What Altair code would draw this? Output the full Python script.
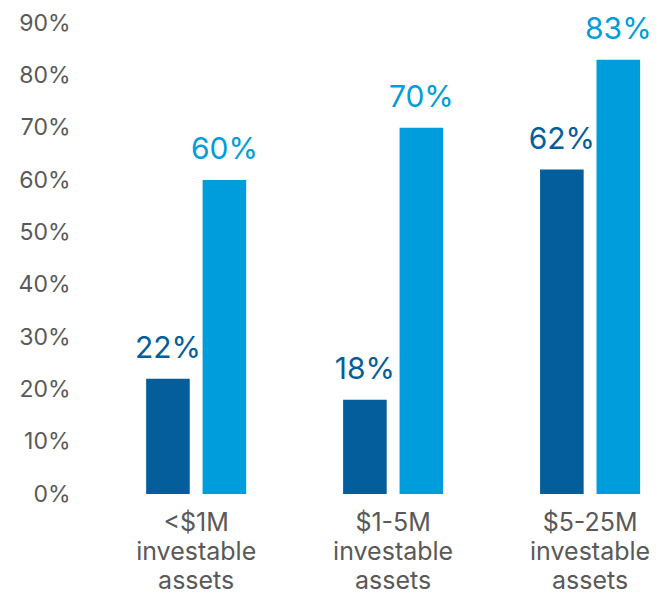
import altair as alt
import pandas as pd

categories = ["<$1M|investable|assets", "$1-5M|investable|assets", "$5-25M|investable|assets"]
series = ["Series 1", "Series 2"]
values_s1 = [22, 18, 62]
values_s2 = [60, 70, 83]

rows = []
for c, a, b in zip(categories, values_s1, values_s2):
    rows.append({"cat": c, "series": series[0], "value": a})
    rows.append({"cat": c, "series": series[1], "value": b})
df = pd.DataFrame(rows)

colors = ["#035E9B", "#009DDC"]
font = "Inter"

x = alt.X("cat:N", sort=categories, title=None,
          scale=alt.Scale(paddingInner=0.492, paddingOuter=0.193, align=0.87),
          axis=alt.Axis(labelAngle=0, domain=False, ticks=False, labelPadding=16,
                        labelFontSize=25, labelColor="#595959", labelFont=font,
                        labelFontWeight="normal",
                        labelLineHeight=29, labelExpr="split(datum.label, '|')"))
xo = alt.XOffset("series:N", sort=series, scale=alt.Scale(paddingInner=0.228, paddingOuter=0))
y = alt.Y("value:Q", title=None,
          scale=alt.Scale(domain=[0, 90], nice=False),
          axis=alt.Axis(values=list(range(0, 100, 10)), labelExpr="datum.value + '%'",
                        domain=False, ticks=False, grid=False, labelPadding=10,
                        labelFontSize=23, labelColor="#595959", labelFont=font,
                        labelFontWeight="normal"))
color = alt.Color("series:N", sort=series, scale=alt.Scale(domain=series, range=colors), legend=None)

base = alt.Chart(df)
bars = base.mark_bar().encode(x=x, xOffset=xo, y=y, color=color)
labels = base.mark_text(baseline="alphabetic", dy=-21, fontSize=30, font=font, fontWeight="normal").encode(
    x=x, xOffset=xo, y=y, color=color, text=alt.Text("label:N")
).transform_calculate(label="datum.value + '%'")

chart = alt.layer(bars, labels).properties(
    width=570, height=471,
    padding={"left": 72, "top": 15, "right": 1, "bottom": 104},
    autosize=alt.AutoSizeParams(type="none"),
).configure(background="white").configure_view(stroke=None)

chart.save("out.html", embed_options={"renderer": "svg", "actions": False})
